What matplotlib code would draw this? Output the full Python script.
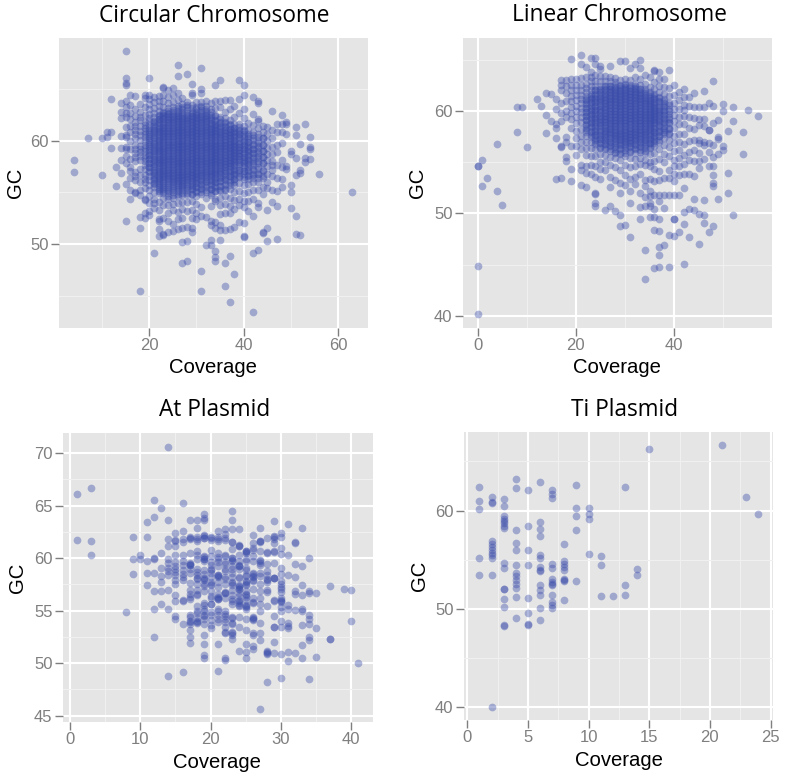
import matplotlib
matplotlib.use("Agg")
from matplotlib.ticker import MultipleLocator
import matplotlib.pyplot as plt

W = 787
H = 778

# Circular chromosome, one GC list per coverage value
circ_cov = [4, 7, 10, 11, 12, 13, 14, 15, 16, 17, 18, 19, 20, 21, 22, 23, 24, 25, 26, 27, 28, 29, 30, 31, 32, 33, 34,
            35, 36, 37, 38, 39, 40, 41, 42, 43, 44, 45, 46, 47, 48, 49, 50, 51, 52, 53, 54, 56, 63]
circ_gc = [
    [58.1, 57],
    [60.2],
    [60.2, 56.7],
    [60.8, 60.3],
    [64, 60.8, 59.3],
    [57.4, 55.6],
    [63.6, 62.8, 62.2, 60.4, 59.3, 58.1, 56.9],
    [68.6, 66, 65.6, 65.4, 63.8, 63.2, 62.7, 62.3, 61.3, 60.5, 60.3, 59.4, 59.2, 58.5, 57.8, 55.8, 52.2],
    [64.4, 63.4, 62.7, 62.1, 61.4, 60.8, 60, 59.2, 58.2, 57.4, 57.1, 56.4, 55.2, 54.4],
    [64.3, 63, 62.4, 61.8, 61.4, 61, 60.6, 60.2, 59.6, 59.2, 58.8, 58.4, 58, 57, 56.6, 56.2, 55, 54.9],
    [63.5, 62.8, 62.3, 62, 61.4, 60.9, 60.5, 60.1, 59.5, 59.2, 58.9, 58.5, 58.1, 57.3, 56.7, 56, 55.2, 54.7, 52.6, 51.6, 45.5],
    [64.4, 64.1, 63.2, 62.5, 61.8, 61.5, 61.2, 60.9, 60.6, 60.3, 60, 59.6, 59.3, 59, 58.6, 58.3, 58, 57.6, 57.3, 56.7, 56.3, 56, 55.4, 54.4, 54.3, 53, 52.5],
    [66, 64.4, 64, 63.5, 63, 62.6, 62.2, 61.9, 61.5, 61.2, 60.8, 60.4, 60.1, 59.7, 59.3, 58.9, 58.6, 58.2, 57.8, 57.4, 57, 56.6, 56.2, 55.7, 55.2, 54.6, 54, 53.2, 52.8],
    [64.2, 63.7, 63.1, 62.7, 62.3, 61.9, 61.6, 61.2, 60.9, 60.5, 60.2, 59.8, 59.5, 59.1, 58.8, 58.4, 58.1, 57.7, 57.4, 57, 56.7, 56.3, 55.9, 55.5, 55, 54.4, 54, 53.5, 49.1],
    [64.3, 63.8, 63.3, 62.9, 62.5, 62.1, 61.8, 61.4, 61.1, 60.8, 60.4, 60.1, 59.8, 59.4, 59.1, 58.8, 58.4, 58.1, 57.8, 57.4, 57.1, 56.8, 56.4, 56.1, 55.7, 55.3, 54.9, 54.1, 53.3, 52.4, 52.2, 51.5, 50.8],
    [65.2, 65.1, 64.4, 63.8, 63.2, 62.8, 62.5, 62.2, 61.8, 61.5, 61.2, 60.9, 60.6, 60.3, 60, 59.7, 59.3, 59, 58.7, 58.4, 58.1, 57.8, 57.5, 57.2, 56.9, 56.6, 56.3, 55.9, 55.5, 55.1, 54.5, 53.8, 52.5, 51, 50.9],
    [64.9, 64.2, 63.6, 63.1, 62.7, 62.4, 62.1, 61.8, 61.5, 61.2, 60.9, 60.6, 60.3, 60, 59.7, 59.4, 59.1, 58.8, 58.5, 58.2, 57.9, 57.6, 57.3, 57, 56.7, 56.4, 56.1, 55.7, 55.3, 54.9, 54.4, 53.8, 53, 52.2, 51.2],
    [65.1, 64.4, 63.7, 63.2, 62.8, 62.4, 62.1, 61.8, 61.5, 61.2, 60.9, 60.6, 60.3, 60, 59.7, 59.4, 59.1, 58.8, 58.5, 58.2, 57.9, 57.6, 57.3, 57, 56.7, 56.4, 56.1, 55.8, 55.4, 55, 54.5, 53.9, 53.3, 51.9, 51.3],
    [67.3, 66.2, 64.6, 63.9, 63.3, 62.9, 62.5, 62.2, 61.9, 61.6, 61.3, 61, 60.7, 60.4, 60.1, 59.8, 59.5, 59.2, 58.9, 58.6, 58.3, 58, 57.7, 57.4, 57.1, 56.8, 56.5, 56.2, 55.9, 55.5, 55.1, 54.6, 54, 53.1, 52.4, 51.5],
    [64.1, 63.5, 63, 62.6, 62.2, 61.9, 61.6, 61.3, 61, 60.7, 60.4, 60.1, 59.8, 59.5, 59.2, 58.9, 58.6, 58.3, 58, 57.7, 57.4, 57.1, 56.8, 56.5, 56.2, 55.9, 55.6, 55.2, 54.7, 54.1, 53.4, 52.5, 51.6, 50.2, 48.2],
    [66.4, 63.7, 63.2, 62.7, 62.3, 62, 61.7, 61.4, 61.1, 60.8, 60.5, 60.2, 59.9, 59.6, 59.3, 59, 58.7, 58.4, 58.1, 57.8, 57.5, 57.2, 56.9, 56.6, 56.3, 56, 55.6, 55.2, 54.7, 54.1, 53.2, 51.7, 50.3, 48.4],
    [65.5, 64.6, 64.4, 63.4, 62.8, 62.4, 62.1, 61.8, 61.5, 61.2, 60.9, 60.6, 60.3, 60, 59.7, 59.4, 59.1, 58.8, 58.5, 58.2, 57.9, 57.6, 57.3, 57, 56.7, 56.4, 56.1, 55.7, 55.3, 54.8, 54.2, 53.3, 52.5, 51.6, 51.2],
    [63.7, 63.2, 62.8, 62.5, 62.2, 61.9, 61.6, 61.3, 61, 60.7, 60.4, 60.1, 59.8, 59.5, 59.2, 58.9, 58.6, 58.3, 58, 57.7, 57.4, 57.1, 56.8, 56.5, 56.2, 55.9, 55.5, 55.1, 54.6, 53.9, 53, 52.4],
    [67, 65, 64.6, 63.7, 63.2, 62.8, 62.4, 62.1, 61.8, 61.5, 61.2, 60.9, 60.6, 60.3, 60, 59.7, 59.4, 59.1, 58.8, 58.5, 58.2, 57.9, 57.6, 57.3, 57, 56.7, 56.4, 56.1, 55.7, 55.3, 54.8, 53.6, 52.7, 47.4, 45.5],
    [63.8, 63.3, 62.9, 62.5, 62.2, 61.9, 61.6, 61.3, 61, 60.7, 60.4, 60.1, 59.8, 59.5, 59.2, 58.9, 58.6, 58.3, 58, 57.7, 57.4, 57.1, 56.8, 56.5, 56.1, 55.7, 55.2, 54.5, 52.6, 49.9],
    [63.6, 63, 62.5, 62.1, 61.7, 61.4, 61.1, 60.8, 60.5, 60.2, 59.9, 59.6, 59.3, 59, 58.7, 58.4, 58.1, 57.8, 57.5, 57.2, 56.9, 56.6, 56.2, 55.8, 55.3, 54.7, 53.7, 52.2, 51.8, 50.4, 49.9],
    [65.4, 63.8, 63.1, 62.5, 62, 61.6, 61.3, 61, 60.7, 60.4, 60.1, 59.8, 59.5, 59.2, 58.9, 58.6, 58.3, 58, 57.7, 57.4, 57.1, 56.8, 56.4, 56, 55.6, 55.1, 54.4, 54.2, 52.1, 51.6, 49.3, 48.8, 48.4],
    [65.8, 63.8, 63.2, 62.3, 61.8, 61.4, 61.1, 60.8, 60.5, 60.2, 59.9, 59.6, 59.3, 59, 58.7, 58.4, 58.1, 57.8, 57.5, 57.2, 56.9, 56.5, 56.1, 55.6, 55.1, 54.5, 53.8, 52.9, 51.8, 51.4, 50.4],
    [63.9, 62.8, 62.2, 61.7, 61.3, 61, 60.7, 60.4, 60.1, 59.8, 59.5, 59.2, 58.9, 58.6, 58.3, 58, 57.7, 57.4, 57.1, 56.7, 56.3, 55.8, 55.2, 54.6, 53.9, 53, 51.4, 48.2, 46],
    [63.9, 63, 62, 61.5, 61.1, 60.8, 60.5, 60.2, 59.9, 59.6, 59.3, 59, 58.7, 58.4, 58.1, 57.8, 57.5, 57.1, 56.6, 56, 55.3, 54.5, 53.7, 53, 51.5, 48.9, 44.4],
    [63.3, 62.3, 61.6, 61.2, 60.8, 60.4, 60.1, 59.8, 59.5, 59.2, 58.9, 58.6, 58.3, 58, 57.6, 57.2, 56.8, 56.3, 55.7, 55, 54.3, 53.4, 51.7, 47.1],
    [65.8, 64, 62.7, 61.6, 61, 60.6, 60.2, 59.8, 59.4, 59.1, 58.8, 58.5, 58.1, 57.7, 57.2, 56.6, 55.9, 55.1, 54.4, 53.8, 52.1],
    [65.4, 64.4, 63, 62.2, 61.4, 60.9, 60.4, 60, 59.6, 59.2, 58.8, 58.4, 58, 57.6, 57.1, 56.5, 55.7, 54.9, 54.2, 53.6, 52, 50.8, 50.7],
    [61.7, 61, 60.4, 59.9, 59.4, 59, 58.6, 58.2, 57.7, 57.2, 56.6, 55.8, 55, 54.2, 53.2],
    [64.2, 62.6, 61.5, 60.8, 60.2, 59.7, 59.2, 58.8, 58.3, 57.8, 57.3, 56.7, 56, 55.2, 54.4, 52.7, 49.1, 43.4],
    [63.8, 63.6, 62.1, 61.9, 61.2, 60.6, 60, 59.5, 59, 58.5, 58, 57.4, 56.8, 56, 55.2, 54, 53.6, 49.4],
    [61.4, 60.8, 60.2, 59.6, 59, 58.4, 57.8, 57.1, 56.4, 55.5, 54.8, 51.2, 51.1],
    [61.3, 60.6, 60, 59.3, 58.7, 58.1, 57.5, 56.8, 56, 55.4, 53.3, 51.6, 50.3],
    [62.9, 61, 60.2, 59.4, 58.7, 58, 57.6, 57.2, 56.6, 55.2, 54.1],
    [61.6, 60.8, 59.6, 58.9, 57.6, 56.4, 55.1, 53.7, 50.5],
    [62.5, 61.6, 60.8, 59.8, 58.1, 57.4, 56.3, 55.5],
    [61.8, 61.6, 60.6, 57.5, 57.3],
    [59, 58.7, 55.7, 55, 53.5],
    [61.3, 60.5, 58.3, 56.7, 52.7, 51],
    [59.7, 57.2, 56.9, 50.9],
    [61.6, 58.3, 57.9],
    [60.3, 59.4, 59.2, 58.2],
    [56.8],
    [55],
]

# the solid middle of the circular cloud, points lying on top of each other
circ_core_cov = [20, 21, 22, 23, 24, 25, 26, 27, 28, 29, 30, 31, 32, 33, 34, 35, 36, 37, 38, 39, 40, 41, 42, 43, 44]
circ_core_gc = [
    [61.05, 60.65, 60.25, 59.85, 59.45, 59.05, 58.65, 58.25, 57.85, 57.45, 57.05],
    [61.75, 61.4, 61.05, 60.7, 60.35, 60, 59.65, 59.3, 58.95, 58.6, 58.25, 57.9, 57.55, 57.2, 56.85, 56.5, 56.15, 55.8],
    [62.4, 62.05, 61.65, 61.25, 60.95, 60.6, 60.25, 59.95, 59.6, 59.25, 58.95, 58.6, 58.25, 57.95, 57.6, 57.25, 56.95, 56.6, 56.25, 55.9, 55.5, 55.15],
    [62.65, 62.35, 62.05, 61.65, 61.35, 61.05, 60.75, 60.45, 60.15, 59.85, 59.5, 59.15, 58.85, 58.55, 58.25, 57.95, 57.65, 57.35, 57.05, 56.75, 56.45, 56.1, 55.7, 55.3, 54.9],
    [62.9, 62.55, 62.25, 61.95, 61.65, 61.35, 61.05, 60.75, 60.45, 60.15, 59.85, 59.55, 59.25, 58.95, 58.65, 58.35, 58.05, 57.75, 57.45, 57.15, 56.85, 56.55, 56.25, 55.9, 55.5, 55.1, 54.65],
    [62.95, 62.6, 62.25, 61.95, 61.65, 61.35, 61.05, 60.75, 60.45, 60.15, 59.85, 59.55, 59.25, 58.95, 58.65, 58.35, 58.05, 57.75, 57.45, 57.15, 56.85, 56.55, 56.25, 55.95, 55.6, 55.2, 54.75],
    [63.1, 62.7, 62.35, 62.05, 61.75, 61.45, 61.15, 60.85, 60.55, 60.25, 59.95, 59.65, 59.35, 59.05, 58.75, 58.45, 58.15, 57.85, 57.55, 57.25, 56.95, 56.65, 56.35, 56.05, 55.7, 55.3, 54.85],
    [63.25, 62.8, 62.4, 62.05, 61.75, 61.45, 61.15, 60.85, 60.55, 60.25, 59.95, 59.65, 59.35, 59.05, 58.75, 58.45, 58.15, 57.85, 57.55, 57.25, 56.95, 56.65, 56.35, 56.05, 55.75, 55.4, 54.9],
    [63.4, 62.95, 62.5, 62.15, 61.85, 61.55, 61.25, 60.95, 60.65, 60.35, 60.05, 59.75, 59.45, 59.15, 58.85, 58.55, 58.25, 57.95, 57.65, 57.35, 57.05, 56.75, 56.45, 56.15, 55.85, 55.4, 54.95],
    [63.1, 62.65, 62.35, 62.05, 61.75, 61.45, 61.15, 60.85, 60.55, 60.25, 59.95, 59.65, 59.35, 59.05, 58.75, 58.45, 58.15, 57.85, 57.55, 57.25, 56.95, 56.65, 56.35, 56, 55.65, 55.3, 54.85],
    [63.05, 62.6, 62.25, 61.95, 61.65, 61.35, 61.05, 60.75, 60.45, 60.15, 59.85, 59.55, 59.25, 58.95, 58.65, 58.35, 58.05, 57.75, 57.45, 57.15, 56.85, 56.55, 56.25, 55.9, 55.5, 55.05],
    [63.3, 62.95, 62.6, 62.3, 62, 61.65, 61.35, 61.05, 60.75, 60.45, 60.15, 59.85, 59.55, 59.25, 58.95, 58.65, 58.35, 58.05, 57.75, 57.45, 57.15, 56.85, 56.55, 56.2, 55.85, 55.45, 55],
    [63, 62.65, 62.35, 62.05, 61.75, 61.45, 61.15, 60.85, 60.55, 60.25, 59.95, 59.65, 59.35, 59.05, 58.75, 58.45, 58.15, 57.85, 57.55, 57.25, 56.95, 56.65, 56.3, 55.95, 55.5, 55],
    [62.8, 62.3, 61.95, 61.6, 61.25, 60.95, 60.65, 60.35, 60.05, 59.75, 59.45, 59.15, 58.85, 58.55, 58.25, 57.95, 57.65, 57.35, 57.05, 56.75, 56.45, 56.1, 55.75, 55.35, 54.95],
    [62.35, 61.9, 61.5, 61.2, 60.9, 60.6, 60.3, 60, 59.7, 59.4, 59.1, 58.8, 58.5, 58.2, 57.9, 57.6, 57.3, 57, 56.65, 56.3, 55.95, 55.55, 55.15],
    [62.05, 61.65, 61.3, 60.95, 60.65, 60.35, 60.05, 59.75, 59.45, 59.15, 58.85, 58.55, 58.25, 57.95, 57.65, 57.35, 57.05, 56.75, 56.4, 56.05, 55.65, 55.2],
    [61.8, 61.4, 61.05, 60.75, 60.45, 60.15, 59.85, 59.55, 59.25, 58.95, 58.65, 58.35, 58.05, 57.75, 57.45, 57.15, 56.85, 56.5, 56.15, 55.75, 55.35],
    [61.55, 61.15, 60.85, 60.55, 60.25, 59.95, 59.65, 59.35, 59.05, 58.75, 58.45, 58.15, 57.85, 57.55, 57.25, 56.9, 56.55, 56.15, 55.75],
    [61.2, 60.9, 60.6, 60.3, 60, 59.7, 59.4, 59.1, 58.8, 58.5, 58.2, 57.9, 57.6, 57.3, 57, 56.65, 56.3, 55.95],
    [61.35, 60.95, 60.6, 60.3, 60, 59.7, 59.4, 59.1, 58.8, 58.5, 58.2, 57.9, 57.55, 57.2, 56.85, 56.45],
    [61, 60.65, 60.25, 59.85, 59.5, 59.15, 58.8, 58.45, 58.15, 57.8, 57.45, 57.1, 56.75, 56.3],
    [60.6, 60.25, 59.9, 59.55, 59.2, 58.85, 58.5, 58.15, 57.8, 57.45, 57.1, 56.7, 56.3],
    [60.5, 60.05, 59.6, 59.2, 58.8, 58.4, 58, 57.6, 57.2, 56.8, 56.4],
    [60.3, 59.8, 59.3, 58.8, 58.3, 57.8, 57.3, 56.8, 56.4],
    [60.2, 59.6, 59, 58.4, 57.8, 57.2, 56.6],
]

# Linear chromosome
lin_cov = [0, 1, 2, 4, 5, 8, 9, 10, 12, 13, 14, 15, 16, 17, 18, 19, 20, 21, 22, 23, 24, 25, 26, 27, 28, 29, 30, 31, 32,
           33, 34, 35, 36, 37, 38, 39, 40, 41, 42, 43, 44, 45, 46, 47, 48, 49, 50, 51, 52, 54, 55, 57]
lin_gc = [
    [54.6, 54.6, 44.9, 40.2],
    [55.2, 52.7],
    [53.5],
    [56.8, 52.2],
    [50.8],
    [60.4, 58],
    [60.4],
    [56.5],
    [61.2],
    [60.5],
    [61.8, 59.6, 57.9],
    [61.7, 59],
    [61.2, 60.2, 58.7, 58.4, 57.4, 53.4],
    [63, 62.6, 62.1, 60.8, 59.8, 59, 56.6, 56.5, 53.5],
    [63, 62.5, 61.8, 61, 60, 59.4, 57.5, 57, 55.5, 55.1],
    [65.1, 63.1, 62.6, 62.1, 61.5, 61, 60.4, 59.8, 59.2, 58.4, 56.6, 54.3, 53.2],
    [63.1, 62.6, 62.1, 61.6, 61.1, 60.5, 60, 59.4, 58.8, 58.1, 57.4, 56.6, 55.7],
    [65.5, 64.6, 63.2, 62.6, 62.1, 61.6, 61.2, 60.8, 60.3, 59.9, 59.4, 58.9, 58.3, 57.6, 57, 56.3, 54.7, 54.2, 52.8],
    [64.3, 63.3, 62.7, 62.3, 61.9, 61.5, 61.1, 60.7, 60.3, 59.9, 59.5, 59.1, 58.6, 58.2, 57.6, 57, 56.4, 55.7, 54.6, 54, 52.6],
    [65.2, 63.8, 63.3, 62.9, 62.5, 62.1, 61.7, 61.3, 60.9, 60.5, 60.1, 59.7, 59.3, 58.9, 58.5, 58, 57.5, 57, 56.4, 55.6, 54.7, 53.9],
    [65.2, 64.6, 63.5, 62.9, 62.5, 62.1, 61.7, 61.3, 60.9, 60.5, 60.1, 59.7, 59.3, 58.9, 58.5, 58.1, 57.7, 57.2, 56.8, 56.3, 55.6, 54.6, 53.6, 52, 51.9, 51, 50.7],
    [64.4, 64.1, 63.4, 62.9, 62.5, 62.1, 61.7, 61.3, 61, 60.6, 60.2, 59.9, 59.5, 59.2, 58.8, 58.5, 58.1, 57.7, 57.3, 56.9, 56.4, 55.8, 55, 54.3, 53.4],
    [63.4, 62.9, 62.5, 62.2, 61.8, 61.5, 61.1, 60.8, 60.5, 60.2, 59.8, 59.5, 59.2, 58.9, 58.5, 58.2, 57.9, 57.5, 57.2, 56.8, 56.3, 55.7, 55, 54.2, 50.3],
    [64.4, 63.3, 62.9, 62.5, 62.2, 61.9, 61.5, 61.2, 60.9, 60.6, 60.3, 60, 59.7, 59.3, 59, 58.7, 58.4, 58.1, 57.8, 57.4, 57, 56.6, 56.1, 55.5, 54.7, 53.6, 52.6, 50.7],
    [63.2, 62.8, 62.4, 62.1, 61.8, 61.5, 61.2, 60.9, 60.6, 60.3, 60, 59.7, 59.4, 59.1, 58.8, 58.5, 58.2, 57.9, 57.6, 57.3, 56.9, 56.5, 56, 55.4, 54.5, 53.3, 50.2],
    [64.9, 63, 62.6, 62.3, 62, 61.7, 61.4, 61.1, 60.8, 60.5, 60.2, 59.9, 59.6, 59.3, 59, 58.7, 58.4, 58.1, 57.8, 57.5, 57.2, 56.8, 56.4, 55.9, 55.2, 54.2, 53, 52, 49.8, 48.8],
    [64.9, 63.1, 62.7, 62.4, 62.1, 61.8, 61.5, 61.2, 60.9, 60.6, 60.3, 60, 59.7, 59.4, 59.1, 58.8, 58.5, 58.2, 57.9, 57.6, 57.3, 57, 56.6, 56.2, 55.6, 54.7, 53.8, 52.8, 48.9],
    [64.2, 63, 62.6, 62.3, 62, 61.7, 61.4, 61.1, 60.8, 60.5, 60.2, 59.9, 59.6, 59.3, 59, 58.7, 58.4, 58.1, 57.8, 57.5, 57.2, 56.9, 56.5, 56, 55.4, 54.5, 53.4, 52.2, 51, 47.7],
    [64.6, 63.3, 62.7, 62.3, 62, 61.7, 61.4, 61.1, 60.8, 60.5, 60.2, 59.9, 59.6, 59.3, 59, 58.7, 58.4, 58.1, 57.8, 57.5, 57.2, 56.8, 56.4, 55.9, 55.3, 54.6, 53.6, 52.9],
    [65, 64.2, 63.1, 62.6, 62.2, 61.8, 61.5, 61.2, 60.9, 60.6, 60.3, 60, 59.7, 59.4, 59.1, 58.8, 58.5, 58.2, 57.9, 57.6, 57.3, 56.9, 56.5, 56, 55.4, 54.8, 53.9, 52, 50.6, 49.5],
    [63.5, 62.7, 62.2, 61.8, 61.4, 61.1, 60.8, 60.5, 60.2, 59.9, 59.6, 59.3, 59, 58.7, 58.4, 58.1, 57.8, 57.5, 57.2, 56.8, 56.4, 55.9, 55.2, 54.7, 53.3, 52.7, 51.6, 50.7, 46.4, 43.6],
    [63.3, 62.4, 61.9, 61.5, 61.1, 60.8, 60.5, 60.2, 59.9, 59.6, 59.3, 59, 58.7, 58.4, 58.1, 57.7, 57.3, 56.9, 56.4, 55.8, 55, 54.6, 53.4, 52.2, 51.7, 51, 50.7, 49.7],
    [64, 63.9, 62.8, 62.2, 61.7, 61.3, 60.9, 60.6, 60.3, 60, 59.7, 59.4, 59.1, 58.8, 58.4, 58, 57.6, 57.1, 56.6, 55.9, 55.1, 54.3, 53.2, 51.8, 50.4, 49.7, 48.4, 44.7],
    [63.8, 63.1, 62.5, 61.9, 61.4, 61, 60.6, 60.2, 59.9, 59.6, 59.2, 58.9, 58.5, 58.1, 57.6, 57, 56.3, 55.3, 54.1, 53.3, 51.8, 51.2, 49.5, 48.3, 46.7, 45.9, 44.8],
    [63.1, 62.4, 61.7, 61.2, 60.8, 60.4, 60, 59.6, 59.2, 58.8, 58.4, 58, 57.4, 56.7, 55.8, 55, 53.5, 51.8, 50.5, 46.9],
    [64, 62.3, 61.5, 60.8, 60.2, 59.7, 59.2, 58.8, 58.3, 57.8, 57.2, 56.5, 55.6, 54.2, 53.5, 51.8, 47.9, 44.8],
    [62.6, 61.6, 60.8, 60.2, 59.6, 59, 58.4, 57.6, 56.9, 56.1, 55.2, 54.6, 53.9, 53.2, 51.8, 49.5, 49.5, 47.8],
    [61.9, 61.1, 60.2, 59.4, 58.7, 57.8, 57, 56.2, 55.4, 54.6, 53.8, 51.8, 48.2],
    [62.2, 61.4, 60.6, 60.1, 59.5, 58.7, 57.8, 56.8, 55.7, 54.8, 53.9, 52.5, 50.1, 49, 45.1],
    [61.4, 60.5, 59.4, 58.4, 57.1, 56, 55.2, 53.9, 50.4, 47.7],
    [61.8, 60.4, 59.3, 58.3, 57.2, 56.2, 55.1, 53.7, 51.4, 50.3],
    [60.4, 59.2, 58.6, 57.2, 56.9, 55.9, 55.1, 54.4, 49.9, 47],
    [62, 60.4, 59.2, 58.5, 57, 56.7, 55.3, 51.3, 49.8, 49.1],
    [60.8, 58.2, 58.2, 56.9, 56, 54.6, 48.2],
    [62.9, 60.5, 58.8, 56.7, 55.5, 54.6, 53.8, 53, 52.7, 48.8],
    [59.1, 57.5, 57.3, 55.8, 51.4],
    [60.7, 60, 56.6, 56.2],
    [58.1, 54, 52],
    [60.4, 59, 49.8],
    [58, 55.8],
    [60.1],
    [59.5],
]

lin_core_cov = [22, 23, 24, 25, 26, 27, 28, 29, 30, 31, 32, 33, 34, 35, 36, 37, 38, 39]
lin_core_gc = [
    [61.15, 60.75, 60.35, 59.95, 59.55, 59.15, 58.75, 58.35, 57.95],
    [61.5, 61.15, 60.75, 60.35, 60, 59.65, 59.25, 58.85, 58.45, 58.05, 57.65],
    [62.05, 61.6, 61.15, 60.85, 60.5, 60.15, 59.8, 59.45, 59.1, 58.75, 58.4, 58.05, 57.7, 57.35, 57],
    [62.2, 61.85, 61.5, 61.15, 60.85, 60.5, 60.2, 59.9, 59.55, 59.2, 58.9, 58.6, 58.25, 57.95, 57.6, 57.25, 56.9, 56.5],
    [62.45, 62.05, 61.65, 61.35, 61.05, 60.75, 60.45, 60.15, 59.85, 59.55, 59.25, 58.95, 58.65, 58.35, 58.05, 57.75, 57.45, 57.1, 56.75, 56.35],
    [62.5, 62.15, 61.85, 61.55, 61.25, 60.95, 60.65, 60.35, 60.05, 59.75, 59.45, 59.15, 58.85, 58.55, 58.25, 57.95, 57.65, 57.35, 57, 56.65, 56.25],
    [62.55, 62.15, 61.85, 61.55, 61.25, 60.95, 60.65, 60.35, 60.05, 59.75, 59.45, 59.15, 58.85, 58.55, 58.25, 57.95, 57.65, 57.35, 57.05, 56.7, 56.3, 55.9],
    [62.45, 62.1, 61.8, 61.5, 61.2, 60.9, 60.6, 60.3, 60, 59.7, 59.4, 59.1, 58.8, 58.5, 58.2, 57.9, 57.6, 57.3, 57, 56.65, 56.25, 55.85],
    [62.6, 62.2, 61.85, 61.55, 61.25, 60.95, 60.65, 60.35, 60.05, 59.75, 59.45, 59.15, 58.85, 58.55, 58.25, 57.95, 57.65, 57.35, 57.05, 56.75, 56.35, 55.95],
    [62.35, 62, 61.7, 61.4, 61.1, 60.8, 60.5, 60.2, 59.9, 59.6, 59.3, 59, 58.7, 58.4, 58.1, 57.8, 57.5, 57.2, 56.9, 56.55, 56.15],
    [62.5, 62.15, 61.85, 61.55, 61.25, 60.95, 60.65, 60.35, 60.05, 59.75, 59.45, 59.15, 58.85, 58.55, 58.25, 57.95, 57.65, 57.35, 57.05, 56.7, 56.3],
    [62.2, 61.85, 61.55, 61.25, 60.95, 60.65, 60.35, 60.05, 59.75, 59.45, 59.15, 58.85, 58.55, 58.25, 57.95, 57.65, 57.3, 56.95, 56.6, 56.2],
    [61.95, 61.6, 61.25, 60.95, 60.65, 60.35, 60.05, 59.75, 59.45, 59.15, 58.85, 58.55, 58.25, 57.95, 57.65, 57.3, 56.95, 56.55, 56.15],
    [61.7, 61.3, 60.95, 60.65, 60.35, 60.05, 59.75, 59.45, 59.15, 58.85, 58.55, 58.25, 57.9, 57.55, 57.2, 56.85, 56.45],
    [61.5, 61.15, 60.75, 60.45, 60.15, 59.85, 59.55, 59.25, 58.95, 58.65, 58.3, 57.95, 57.6, 57.25, 56.9],
    [61.25, 60.85, 60.45, 60.05, 59.7, 59.35, 59, 58.65, 58.3, 57.95, 57.6, 57.2],
    [61, 60.55, 60.15, 59.75, 59.35, 58.95, 58.55, 58.15, 57.75],
    [60.6, 60, 59.4, 58.9, 58.4, 57.9],
]

# At plasmid
at_cov = [1, 3, 8, 9, 10, 11, 12, 13, 14, 15, 16, 17, 18, 19, 20, 21, 22, 23, 24, 25, 26, 27, 28, 29, 30, 31, 32, 33,
          34, 35, 37, 39, 40, 41]
at_gc = [
    [66.1, 61.7],
    [66.7, 61.6, 60.3],
    [54.9],
    [62, 59.9, 58.5],
    [60.3, 59.9],
    [63.4, 62, 59.7, 58.6, 57.4],
    [65.5, 63.9, 59.9, 60, 58.6, 56.9, 55.2, 52.5],
    [64.8, 60.5, 59.1, 58.3, 57.7, 56.9, 55.6],
    [70.6, 63.6, 61.8, 61.1, 59.9, 59.5, 59.1, 58.8, 58.4, 57, 55.2, 48.8],
    [62.4, 61.6, 61.1, 60.3, 59.6, 59.2, 58.7, 57.5, 56.5, 55.9, 54.5, 54.2],
    [65.2, 62.6, 61.5, 60.3, 59.3, 58.9, 58.2, 55.9, 53.7, 49.2],
    [63.6, 62, 61.8, 60.5, 59.5, 59.3, 59, 58.6, 57, 56.6, 56.1, 54.4, 54, 53.9, 53.2, 52.5, 51.9],
    [63.6, 62.9, 62, 61.6, 60.3, 59.9, 58.4, 58, 57.5, 56.5, 55.4, 54.8, 54.3, 53.8],
    [64.2, 63.8, 63.6, 62.2, 61.9, 60.2, 59.9, 59.7, 58.5, 58.1, 57.5, 56.9, 55.7, 55.2, 54.6, 53.7, 52.7, 51.8, 50.8, 50.5],
    [62, 61.9, 60.8, 59.3, 59, 58.6, 57.7, 57.5, 56.4, 55.6, 54.6, 53.6, 53.3],
    [62.6, 62, 60.5, 60.1, 59.9, 58.4, 58.2, 57.2, 56.3, 56.1, 55, 54.6, 53.9, 51.8, 49.3],
    [62.8, 62.3, 61.7, 60.2, 59.6, 59, 58.2, 56.7, 56.7, 55, 54.5, 53.9, 53.4, 53, 50.5, 50.3],
    [64.5, 63.6, 62.8, 61.5, 60, 59.7, 59, 58.6, 57.7, 57.4, 56.5, 55.9, 54.3, 53.8, 53, 52.7, 52.3],
    [62.8, 61.1, 60.3, 59.2, 59, 58.2, 57.3, 57.1, 56.4, 55.7, 55.4, 54.4, 53.4, 51.2],
    [60.7, 60.5, 59.7, 58.9, 58.3, 57.7, 57.4, 56.9, 56.5, 56, 55.5, 55.2, 54.2, 53.2, 51.8, 51.1, 50.5],
    [62.2, 61.4, 60.8, 59.7, 58.5, 58.2, 57.8, 57.1, 55.7, 54.4, 54.2, 52.9, 52.7, 51.6, 51.3],
    [62.9, 61.6, 61.5, 60.7, 59.7, 59.3, 58.6, 56.9, 56.2, 55, 53.8, 52.9, 52.2, 45.6],
    [61.9, 60.6, 59.4, 58.8, 58, 57.7, 57, 55.4, 51.2, 51, 50.9, 48.2],
    [63.5, 62, 61.8, 61.4, 60.7, 59.5, 58.1, 58.1, 56, 54.5, 53.4, 53.4, 52, 51],
    [62.4, 62, 61, 60.4, 59.1, 58.5, 57.5, 57.2, 56.8, 56, 55.8, 55.3, 54, 53.4, 50.9, 48.6],
    [63.2, 60.3, 58.4, 55.5, 55.2, 53.8, 53.5, 53.3, 51.1, 50.2],
    [61.5, 61.4, 59.4, 58.2, 56.9, 56.6, 55.1, 51],
    [62.9, 59.2, 57.4, 56.5, 55.2, 55, 53.6, 51.7, 50.5],
    [60, 56.9, 56.7, 54.6, 54.2, 53.7, 52.5, 52.2, 48.5],
    [56.7, 53.3, 50.6],
    [57.3, 52.3, 52.3],
    [57.1],
    [57, 54],
    [50],
]

at_extra_cov = [15, 16, 17, 18, 19, 20, 21, 22, 23, 24, 25, 26, 27, 28, 29, 30]
at_extra_gc = [
    [59, 58.4, 57.9, 61.7],
    [61.8, 59.7, 58.5, 57.9, 56],
    [61.9, 59.3, 59.4, 57.6, 56.3, 54.6, 53.7],
    [61.8, 60.7, 59, 58.7, 58.1, 57, 56.6, 55, 54, 53.9],
    [61.9, 62.1, 60.1, 59.9, 58.9, 58, 57.9, 57.3, 55.5, 55, 54.5, 54.2],
    [61.7, 60.2, 59.6, 58.9, 58.2, 57.4, 56.9, 56.2, 55.6, 54.9, 54.1],
    [61.8, 61.6, 59.6, 59.2, 58.4, 58.3, 57.7, 56.6, 56.2, 56.1, 55.2, 54.2],
    [61.9, 60.3, 59.4, 58.8, 58, 57.5, 56.8, 56.2, 54.7, 54.2, 52.9],
    [61.5, 60.9, 60, 59.8, 59.2, 58.2, 57.6, 57, 56.1, 55.6, 54.4, 53.7, 52.9],
    [61.2, 61.1, 59.7, 59.3, 59.2, 58.1, 57.4, 57.2, 57.1, 56.7, 56, 55.9, 55.5],
    [60.6, 60.7, 59.9, 59.1, 58.4, 57.8, 57.5, 56.6, 56.3, 55.4, 55.3],
    [61, 60.2, 58.6, 58.3, 57.9, 56.2, 55.8, 54.3, 54.1],
    [61.6, 59.8, 59.5, 58.3, 57.5, 55.6],
    [60.5, 58.4, 57.9, 56.8, 51.1],
    [62.1, 60.6, 58.1, 55.9],
    [57.8, 57.1, 56.2, 55.9, 55],
]

# Ti plasmid
ti_cov = [1, 2, 3, 4, 5, 6, 7, 8, 9, 10, 11, 12, 13, 14, 15, 21, 23, 24]
ti_gc = [
    [62.4, 61, 60.2, 55.2, 53.5],
    [61.4, 60.9, 60.8, 56.9, 56.6, 56.3, 56, 55.7, 55.5, 55.2, 53.5, 40],
    [61.2, 60.5, 59.5, 59.1, 58.9, 58.7, 58.4, 58.2, 54.7, 54.2, 52, 52, 51, 50.2, 48.4, 48.3],
    [63.2, 62.3, 58, 56.7, 56, 54.5, 53.7, 53.3, 52.9, 52.5, 52.1, 51.2, 49.1],
    [62.1, 58.4, 56, 54.5, 51.1, 49.6, 48.5, 48.4],
    [62.9, 58.8, 58.1, 57.4, 55.5, 55.2, 54.3, 54, 53.9, 52.4, 51.9, 51.4, 50.1, 48.9],
    [62.1, 61.7, 61.3, 54.6, 54.2, 53, 52.7, 52.5, 52.4, 51.4, 50.7, 50.4, 50.1],
    [56.6, 54.9, 54.6, 54.3, 54, 53, 52.9, 52.8, 50.9],
    [62.6, 60.3, 59.5, 58, 52.8],
    [60.3, 59.7, 59.1, 55.6],
    [55.4, 54.5, 51.3],
    [51.3],
    [62.4, 52.4, 51.4],
    [54.1, 53.5],
    [66.3],
    [66.7],
    [61.4],
    [59.7],
]


def make_panel(box, xlim, ylim, xmajor, xminor, ymajor, yminor, cov, gc, title, title_x, title_y, xlabel_x, xlabel_y, ylabel_x):
    left, top, right, bottom = box
    ax = fig.add_axes([left / W, 1 - bottom / H, (right - left) / W, (bottom - top) / H])
    ax.set_facecolor("#E5E5E5")
    for s in ax.spines.values():
        s.set_visible(False)
    ax.set_xlim(xlim)
    ax.set_ylim(ylim)
    ax.xaxis.set_major_locator(MultipleLocator(xmajor))
    ax.xaxis.set_minor_locator(MultipleLocator(xminor))
    ax.yaxis.set_major_locator(MultipleLocator(ymajor))
    ax.yaxis.set_minor_locator(MultipleLocator(yminor))
    ax.grid(which="major", color="white", linewidth=1.5)
    ax.grid(which="minor", color="#F0F0F0", linewidth=0.8)
    ax.set_axisbelow(True)
    ax.tick_params(which="major", length=5.5, width=1, color="#7F7F7F", labelcolor="#7F7F7F", labelsize=12, pad=2)
    ax.tick_params(which="minor", length=0)

    xs = []
    ys = []
    for i in range(0, len(cov)):
        for v in gc[i]:
            xs.append(cov[i])
            ys.append(v)
    ax.scatter(xs, ys, s=31, color="#3A4CAA", alpha=0.4, linewidths=0, clip_on=True)

    fig.text(title_x / W, 1 - title_y / H, title, ha="center", va="center", fontsize=16.3, family="Open Sans", color="black")
    fig.text(xlabel_x / W, 1 - xlabel_y / H, "Coverage", ha="center", va="center", fontsize=14.6, color="black")
    fig.text(ylabel_x / W, 1 - (top + bottom) / 2 / H, "GC", rotation=90, ha="center", va="center", fontsize=14.6, color="black")
    return ax


plt.rcParams["font.family"] = ["Liberation Sans", "DejaVu Sans"]
fig = plt.figure(figsize=(W / 100, H / 100), dpi=100, facecolor="white")

make_panel((59, 38, 368, 328), (0.9, 66.3), (41.9, 69.9), 20, 10, 10, 5, circ_cov + circ_core_cov, circ_gc + circ_core_gc,
           "Circular Chromosome", 214, 16, 213, 367, 15)
make_panel((463, 38, 772, 328), (-2.95, 59.9), (38.8, 67.15), 20, 10, 10, 5, lin_cov + lin_core_cov, lin_gc + lin_core_gc,
           "Linear Chromosome", 619, 15, 617, 367, 418)
make_panel((63, 433, 373, 722), (-1.0, 43.1), (44.4, 71.9), 10, 5, 5, 2.5, at_cov + at_extra_cov, at_gc + at_extra_gc,
           "At Plasmid", 215, 410, 217, 762, 18)
make_panel((464, 432, 773, 720), (-0.27, 25.2), (38.7, 68), 5, 2.5, 10, 5, ti_cov, ti_gc,
           "Ti Plasmid", 625, 410, 619, 760, 420)

plt.savefig("out.png", dpi=100)
plt.close()
